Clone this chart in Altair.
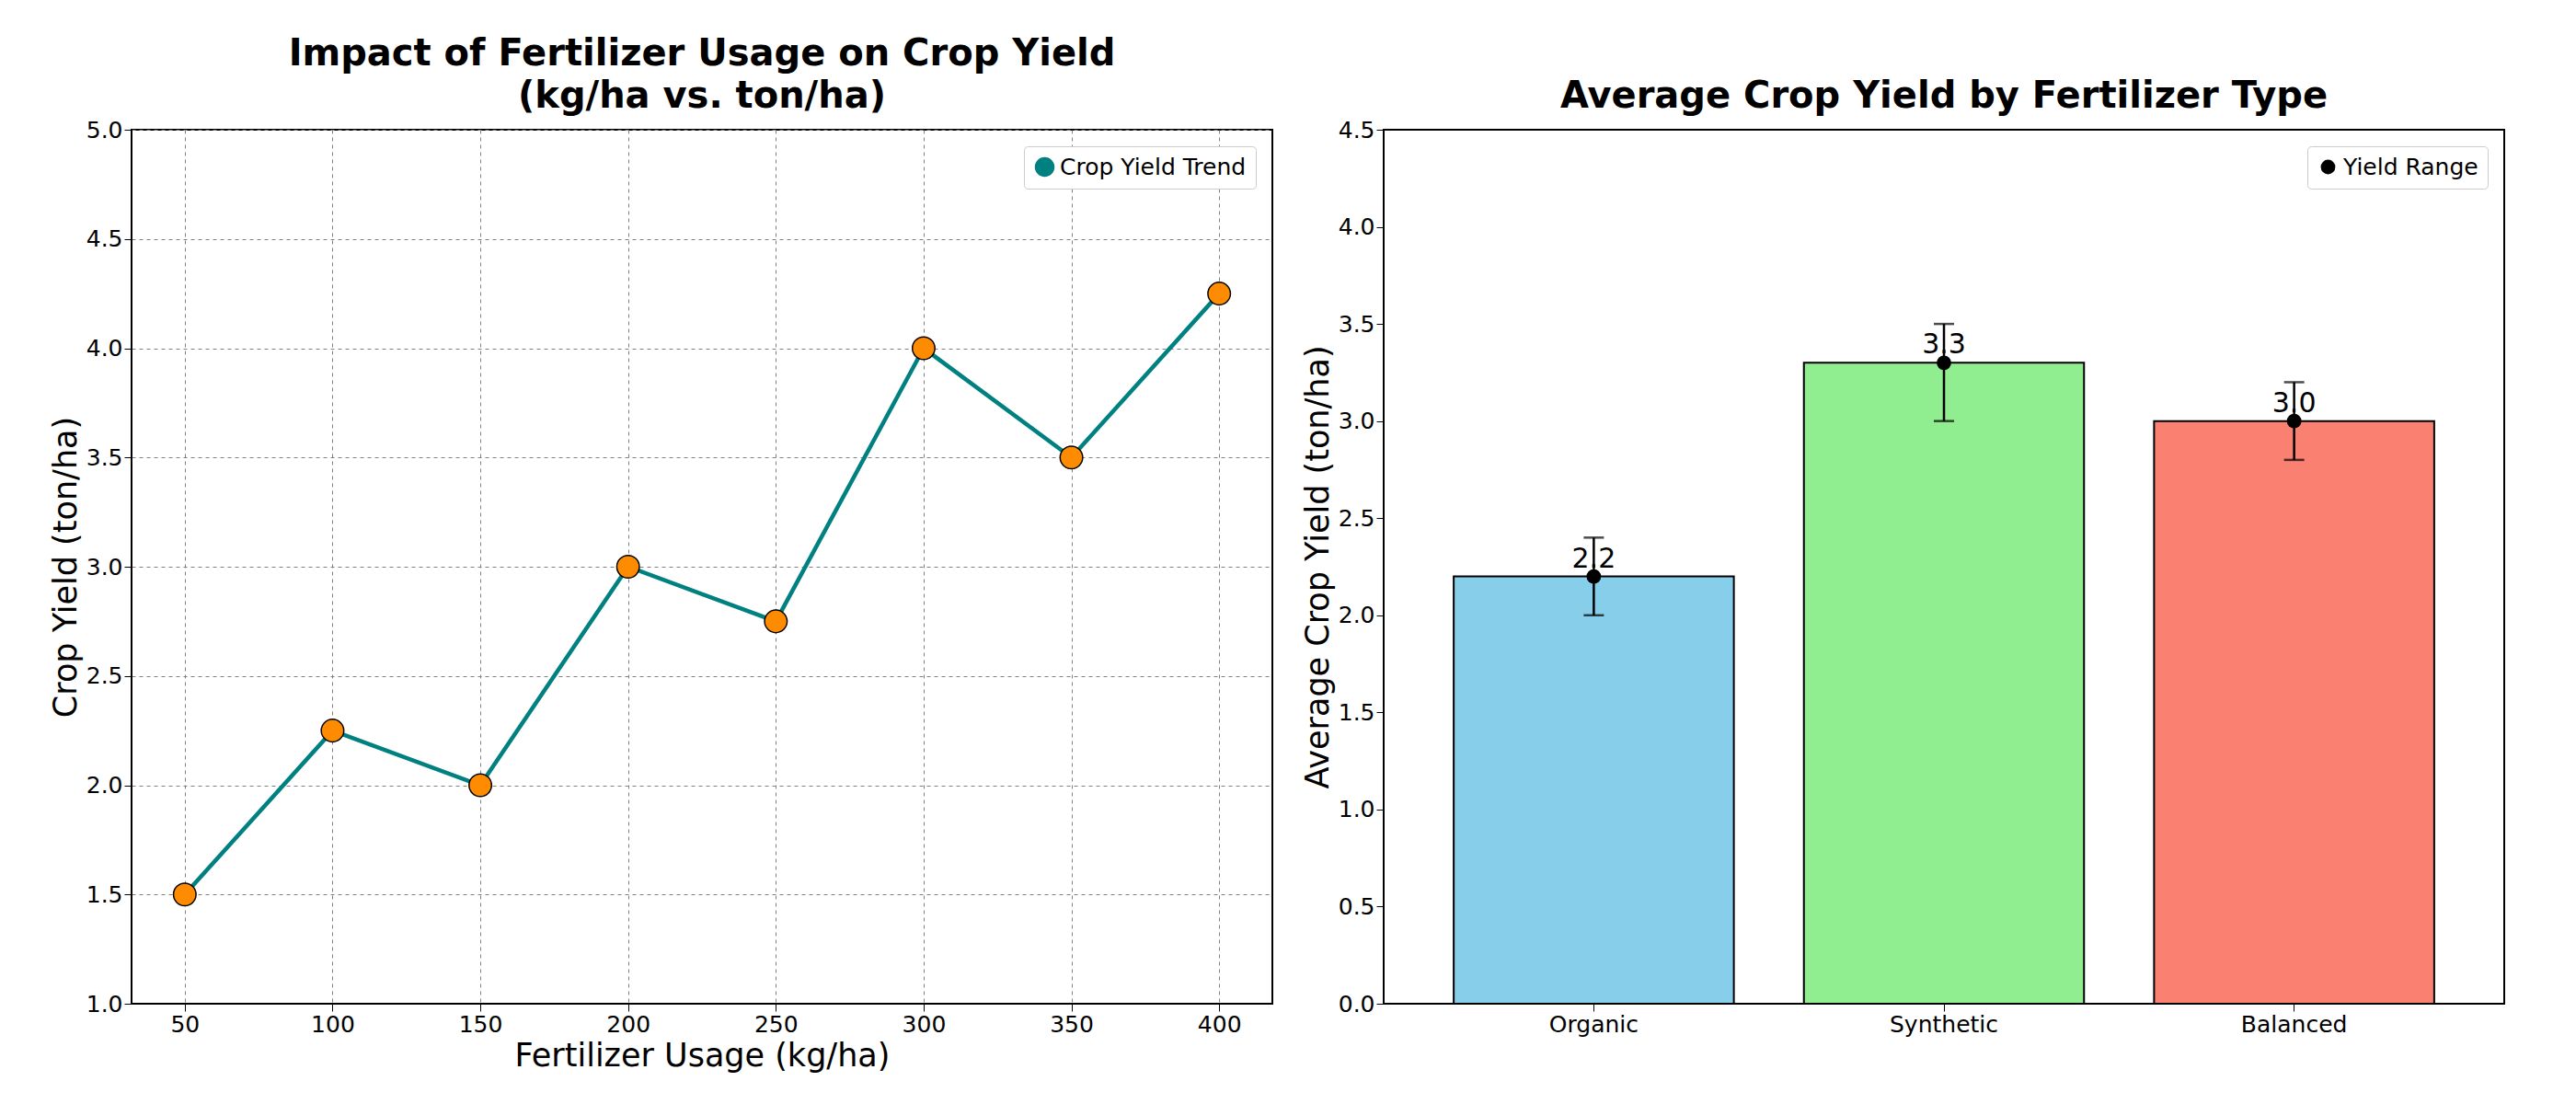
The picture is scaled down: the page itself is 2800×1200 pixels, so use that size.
import altair as alt
import pandas as pd

usage = [50, 100, 150, 200, 250, 300, 350, 400]
crop_yield = [1.5, 2.25, 2.0, 3.0, 2.75, 4.0, 3.5, 4.25]

fert_types = ["Organic", "Synthetic", "Balanced"]
avg_yield = [2.2, 3.3, 3.0]
low = [2.0, 3.0, 2.8]
high = [2.4, 3.5, 3.2]
bar_colors = ["skyblue", "lightgreen", "salmon"]

FONT = "DejaVu Sans"

df_line = pd.DataFrame({"usage": usage, "yield": crop_yield, "series": "Crop Yield Trend"})
df_bar = pd.DataFrame({"type": fert_types, "avg": avg_yield, "low": low, "high": high,
                       "label": [f"{v:.1f}" for v in avg_yield], "series": "Yield Range"})

axis_common = dict(labelFontSize=25, titleFontSize=35, titleFontWeight="normal",
                   tickColor="black", domainColor="black", labelColor="black",
                   titleColor="black", tickSize=8)

x_line = alt.X("usage:Q", title="Fertilizer Usage (kg/ha)",
               scale=alt.Scale(domain=[32, 418], nice=False, zero=False),
               axis=alt.Axis(values=usage, gridDash=[4, 4], gridColor="gray", gridOpacity=1, **axis_common))
y_line = alt.Y("yield:Q", title="Crop Yield (ton/ha)",
               scale=alt.Scale(domain=[1.0, 5.0], nice=False, zero=False),
               axis=alt.Axis(values=[1.0, 1.5, 2.0, 2.5, 3.0, 3.5, 4.0, 4.5, 5.0], format=".1f",
                             gridDash=[4, 4], gridColor="gray", gridOpacity=1, **axis_common))

line = alt.Chart(df_line).mark_line(strokeWidth=4.5).encode(
    x=x_line, y=y_line,
    color=alt.Color("series:N", scale=alt.Scale(range=["teal"]),
                    legend=alt.Legend(title=None, orient="top-right", labelFontSize=25, labelLimit=0,
                                      symbolType="circle", symbolSize=400, symbolFillColor="teal",
                                      symbolStrokeColor="teal", padding=10, strokeColor="#ccc",
                                      cornerRadius=4, fillColor="white")))
pts = alt.Chart(df_line).mark_point(filled=True, size=600, fill="darkorange", stroke="black",
                                    strokeWidth=1.5, opacity=1).encode(x=x_line, y=y_line)

left = (line + pts).properties(
    width=1240, height=950,
    title=alt.TitleParams(["Impact of Fertilizer Usage on Crop Yield", "(kg/ha vs. ton/ha)"],
                          fontSize=40, font=FONT, fontWeight="bold", lineHeight=46))

x_bar = alt.X("type:N", title=None, sort=fert_types, scale=alt.Scale(paddingInner=0.2, paddingOuter=0.2),
              axis=alt.Axis(labelAngle=0, **axis_common))
y_bar = alt.Y("avg:Q", title="Average Crop Yield (ton/ha)",
              scale=alt.Scale(domain=[0, 4.5], nice=False),
              axis=alt.Axis(values=[i * 0.5 for i in range(10)], format=".1f", grid=False, **axis_common))

bars = alt.Chart(df_bar).mark_bar(stroke="black", strokeWidth=2).encode(
    x=x_bar, y=y_bar,
    fill=alt.Fill("type:N", sort=fert_types, scale=alt.Scale(domain=fert_types, range=bar_colors), legend=None))
err = alt.Chart(df_bar).mark_errorbar(ticks=alt.MarkConfig(size=22, color="black", strokeWidth=2.5),
                                      color="black", thickness=2.5).encode(
    x=x_bar, y=alt.Y("low:Q", title="Average Crop Yield (ton/ha)"), y2="high:Q")
dots = alt.Chart(df_bar).mark_point(filled=True, size=250, opacity=1).encode(
    x=x_bar, y=y_bar,
    color=alt.Color("series:N", scale=alt.Scale(range=["black"]),
                    legend=alt.Legend(title=None, orient="top-right", labelFontSize=25, labelLimit=0,
                                      symbolType="circle", symbolSize=250, padding=10, strokeColor="#ccc",
                                      cornerRadius=4, fillColor="white")))
labels = alt.Chart(df_bar).mark_text(fontSize=30, baseline="bottom", dy=-4, color="black", font=FONT).encode(
    x=x_bar, y=y_bar, text="label:N")

right = alt.layer(bars, err, dots, labels).properties(
    width=1218, height=950,
    title=alt.TitleParams(["", "Average Crop Yield by Fertilizer Type"], fontSize=40, font=FONT,
                          fontWeight="bold", lineHeight=46))

chart = alt.hconcat(left, right, spacing=30).resolve_scale(color="independent").properties(
    padding={"top": 30, "left": 45, "right": 10, "bottom": 10}
).configure(
    font=FONT
).configure_view(stroke="black", strokeWidth=2).configure_title(anchor="middle", color="black")

chart.save("out.html", embed_options={"renderer": "svg", "actions": False})
